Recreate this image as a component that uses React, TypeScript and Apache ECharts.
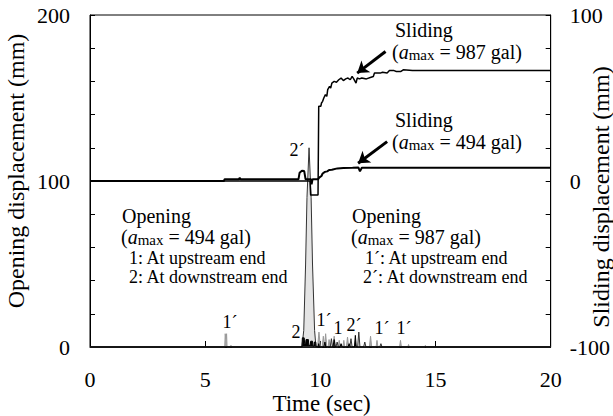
import React, { useEffect, useRef } from "react";
import * as echarts from "echarts";

// Sliding displacement (mm, right axis) vs time (s)
const slide494: number[][] = [
  [0, 0], [5.82, 0], [5.84, 1], [6.45, 1], [6.5, 1.8], [6.55, 1], [9.05, 1], [9.1, 5], [9.2, 6.2],
  [9.3, 6], [9.36, 1], [9.6, 1], [9.62, -2], [9.66, 1], [9.9, 1], [9.95, 2], [10.05, 3], [10.1, 4.5],
  [10.2, 5.5], [10.3, 5.8], [10.38, 6.6], [10.5, 6.8], [10.74, 7.6], [11.0, 7.8], [11.4, 8],
  [11.65, 8.2], [11.72, 5.8], [11.8, 8], [12.2, 8], [20, 8],
];
const slide987: number[][] = [
  [0, 0], [9.55, 0], [9.58, -8.5], [9.9, -8.5], [9.93, 45], [10.02, 45], [10.05, 47], [10.1, 48],
  [10.15, 50], [10.22, 52], [10.28, 51], [10.32, 55], [10.4, 57], [10.45, 56], [10.5, 59], [10.6, 60],
  [10.7, 59.5], [10.8, 61], [10.9, 62], [11.0, 60.5], [11.1, 61.5], [11.2, 62], [11.3, 61], [11.38, 63],
  [11.45, 61.5], [11.55, 59], [11.6, 62], [11.7, 61.5], [11.8, 62], [12.0, 61.5], [12.2, 62.5],
  [12.3, 63], [12.35, 65], [12.6, 65], [12.7, 65.5], [12.9, 65], [13.0, 66.5], [13.2, 66.5],
  [13.3, 66], [13.5, 66], [13.6, 67], [14.0, 66.5], [14.5, 66.5], [20, 66.5],
];
// Opening displacement (mm, left axis)
const open1_494: number[][] = [
  [0, 0], [9.9, 0], [9.93, 2], [9.96, 0], [10.15, 0], [10.2, 3], [10.24, 0], [10.55, 0], [10.6, 4.5],
  [10.65, 0], [10.85, 0], [10.9, 2], [10.95, 0], [11.2, 0], [11.25, 2], [11.3, 0], [20, 0],
];
const open2_494: number[][] = [
  [0, 0], [9.2, 0], [9.22, 5.5], [9.3, 5.5], [9.32, 2], [9.36, 2], [9.38, 4.5], [9.48, 4.5], [9.5, 1],
  [9.56, 1], [9.58, 3.5], [9.66, 3.5], [9.68, 0.5], [9.72, 0.5], [9.74, 3], [9.8, 3], [9.82, 0],
  [11.48, 0], [11.52, 7], [11.56, 0], [20, 0],
];
const open1_987: number[][] = [
  [0, 0], [5.85, 0], [5.87, 8], [5.9, 5], [5.93, 8], [5.95, 0], [6.1, 0], [6.12, 1], [6.14, 0],
  [9.88, 0], [9.94, 9], [10.0, 0], [10.08, 0], [10.13, 6.5], [10.18, 0], [10.19, 0], [10.23, 8],
  [10.28, 0], [10.34, 0], [10.38, 4.5], [10.42, 0], [10.55, 0], [10.6, 6.5], [10.65, 0], [10.78, 0],
  [10.82, 4], [10.86, 0], [10.98, 0], [11.02, 4], [11.06, 0], [11.13, 0], [11.18, 6], [11.23, 0],
  [12.13, 0], [12.18, 6.5], [12.23, 0], [12.42, 0], [12.46, 4], [12.5, 0], [13.44, 0], [13.48, 4],
  [13.52, 0], [13.8, 0], [13.83, 1.5], [13.86, 0], [14.54, 0], [14.56, 1], [14.58, 0], [20, 0],
];
const open2_987: number[][] = [
  [0, 0], [9.2, 0], [9.28, 10], [9.36, 50], [9.42, 90], [9.51, 120], [9.6, 90], [9.66, 50],
  [9.75, 10], [9.81, 0], [10.43, 0], [10.48, 5], [10.53, 0], [10.68, 0], [10.73, 3], [10.78, 0],
  [11.28, 0], [11.33, 5], [11.38, 0], [11.62, 0], [11.67, 9], [11.72, 0], [11.88, 0], [11.93, 3],
  [11.98, 0], [12.58, 0], [12.63, 2], [12.68, 0], [20, 0],
];
const arrow987: number[][] = [[12.83, 78], [11.6, 65]];
const arrow494: number[][] = [[12.9, 23.7], [11.64, 10.7]];

const xTicks = [0, 5, 10, 15, 20];
const leftLabels = [0, 100, 200];
const rightLabels = [-100, 0, 100];

const FONT = "Liberation Serif";

export default function App() {
  const ref = useRef<HTMLDivElement>(null);
  useEffect(() => {
    if (!ref.current) return;
    const chart = echarts.init(ref.current, undefined, { renderer: "svg" });
    const big = 20;
    const small = 18;
    const rich = {
      r: { fontSize: big, lineHeight: 20, fontFamily: FONT, color: "#000" },
      i: { fontStyle: "italic", fontSize: big, lineHeight: 20, fontFamily: FONT, color: "#000" },
      s: { fontSize: 15, lineHeight: 12, fontFamily: FONT, verticalAlign: "bottom", color: "#000" },
    };
    const txt = (x: number, y: number, text: string, size: number, align = "left") => ({
      type: "text",
      x,
      y,
      style: {
        text,
        font: `${size}px "${FONT}"`,
        fontSize: size,
        fontFamily: FONT,
        fill: "#000",
        textAlign: align,
        textVerticalAlign: "middle",
      },
    });
    const amax = (x: number, y: number, g: string) => ({
      type: "text",
      x,
      y,
      style: {
        text: `{r|(}{i|a}{s|max}{r| = ${g} gal)}`,
        font: `${big}px "${FONT}"`,
        fill: "#000",
        textVerticalAlign: "middle",
        rich,
      },
    });
    const axisLabelStyle = { fontSize: 22, fontFamily: FONT, color: "#000" };
    const nameText = (x: number, y: number, text: string, rot: number, size = 24) => ({
      type: "text", x, y, rotation: rot,
      style: {
        text, font: `${size}px "${FONT}"`, fontSize: size, fontFamily: FONT, fill: "#000",
        textAlign: "center", textVerticalAlign: "middle",
      },
    });
    chart.setOption({
      animation: false,
      backgroundColor: "#fff",
      grid: { left: 90, right: 60, top: 15, bottom: 69, show: true, borderColor: "#000", borderWidth: 1 },
      xAxis: {
        type: "value",
        min: 0,
        max: 20,
        interval: 5,
        axisLine: { lineStyle: { color: "#000", width: 1 } },
        axisTick: { inside: true, length: 6, lineStyle: { color: "#000" } },
        splitLine: { show: false },
        axisLabel: {
          ...axisLabelStyle,
          margin: 21,
          formatter: (v: number) => (xTicks.includes(v) ? String(v) : ""),
        },
      },
      yAxis: [
        {
          type: "value",
          min: 0,
          max: 200,
          interval: 20,
          axisLine: { show: true, lineStyle: { color: "#000" } },
          axisTick: { show: true, inside: true, length: 5, lineStyle: { color: "#000" } },
          splitLine: { show: false },
          axisLabel: {
            ...axisLabelStyle,
            margin: 20,
            formatter: (v: number) => (leftLabels.includes(v) ? String(v) : ""),
          },
        },
        {
          type: "value",
          min: -100,
          max: 100,
          interval: 20,
          position: "right",
          axisLine: { show: true, lineStyle: { color: "#000" } },
          axisTick: { show: true, inside: true, length: 5, lineStyle: { color: "#000" } },
          splitLine: { show: false },
          axisLabel: {
            ...axisLabelStyle,
            margin: 19,
            formatter: (v: number) => (rightLabels.includes(v) ? String(v) : ""),
          },
        },
      ],
      series: [
        {
          type: "line", yAxisIndex: 0, data: open1_987, showSymbol: false,
          lineStyle: { color: "#999", width: 1 }, areaStyle: { color: "#aaa", opacity: 1 },
        },
        {
          type: "line", yAxisIndex: 0, data: open2_987, showSymbol: false,
          lineStyle: { color: "#333", width: 1 }, areaStyle: { color: "#e4e4e4", opacity: 1 },
        },
        {
          type: "line", yAxisIndex: 0, data: open1_494, showSymbol: false,
          lineStyle: { color: "#000", width: 1 }, areaStyle: { color: "#000", opacity: 1 },
        },
        {
          type: "line", yAxisIndex: 0, data: open2_494, showSymbol: false,
          lineStyle: { color: "#000", width: 1 }, areaStyle: { color: "#000", opacity: 1 },
        },
        {
          type: "line", yAxisIndex: 1, data: slide494, showSymbol: false,
          lineStyle: { color: "#000", width: 2 },
          markLine: {
            silent: true, symbol: ["none", "arrow"], symbolSize: 11,
            lineStyle: { color: "#000", width: 3, type: "solid" }, label: { show: false },
            data: [[{ coord: arrow494[0] }, { coord: arrow494[1] }]],
          },
        },
        {
          type: "line", yAxisIndex: 1, data: slide987, showSymbol: false,
          lineStyle: { color: "#000", width: 1.5 },
          markLine: {
            silent: true, symbol: ["none", "arrow"], symbolSize: 11,
            lineStyle: { color: "#000", width: 3, type: "solid" }, label: { show: false },
            data: [[{ coord: arrow987[0] }, { coord: arrow987[1] }]],
          },
        },
      ],
      graphic: [
        nameText(16, 171, "Opening displacement (mm)", Math.PI / 2),
        nameText(601, 197, "Sliding displacement (mm)", Math.PI / 2),
        nameText(321.5, 403, "Time (sec)", 0, 23),
        txt(395, 30, "Sliding", big),
        amax(392, 52, "987"),
        txt(395, 120, "Sliding", big),
        amax(392, 142, "494"),
        txt(122, 216, "Opening", big),
        amax(121, 237, "494"),
        txt(129, 258, "1: At upstream end", small),
        txt(129, 277, "2: At downstream end", small),
        txt(352, 216, "Opening", big),
        amax(351, 237, "987"),
        txt(365, 258, "1´: At upstream end", small),
        txt(363, 277, "2´: At downstream end", small),
        txt(297, 150, "2´", small, "center"),
        txt(230, 322, "1´", small, "center"),
        txt(296, 332, "2", small, "center"),
        txt(324, 320, "1´", small, "center"),
        txt(338, 328, "1", small, "center"),
        txt(354, 325, "2´", small, "center"),
        txt(382, 328, "1´", small, "center"),
        txt(404, 328, "1´", small, "center"),
      ],
    });
    return () => chart.dispose();
  }, []);
  return (
    <div
      ref={ref}
      style={{ position: "absolute", left: 0, top: 0, width: 613, height: 416, background: "#fff" }}
    />
  );
}
